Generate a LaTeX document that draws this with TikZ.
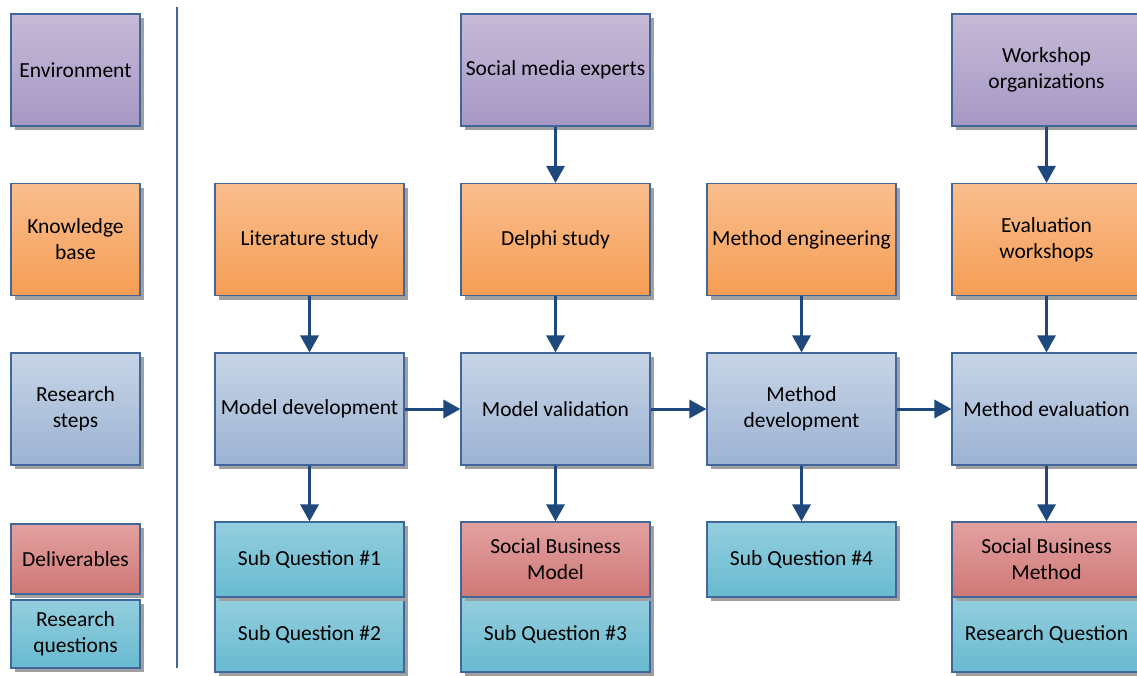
\documentclass[tikz,border=0pt]{standalone}
\usepackage{fontspec}
\setmainfont{Carlito}
\usetikzlibrary{arrows.meta,shadows}
\definecolor{frame}{RGB}{65,103,154}
\definecolor{arrowblue}{RGB}{31,73,125}
\definecolor{envtop}{RGB}{198,186,215}
\definecolor{envbot}{RGB}{166,152,196}
\definecolor{kbtop}{RGB}{250,190,142}
\definecolor{kbbot}{RGB}{245,157,84}
\definecolor{rstop}{RGB}{199,212,230}
\definecolor{rsbot}{RGB}{156,179,211}
\definecolor{dltop}{RGB}{226,161,160}
\definecolor{dlbot}{RGB}{207,120,118}
\definecolor{rqtop}{RGB}{148,206,222}
\definecolor{rqbot}{RGB}{104,186,208}
\definecolor{shade}{RGB}{160,160,160}
\tikzset{
  box/.style={draw=frame, line width=1.1pt, align=center, inner sep=2pt,
    font=\fontsize{21.5}{26}\selectfont,
    drop shadow={shadow xshift=4pt, shadow yshift=-4pt, fill=shade, opacity=1}},
  env/.style={box, top color=envtop, bottom color=envbot},
  kb/.style={box, top color=kbtop, bottom color=kbbot},
  rs/.style={box, top color=rstop, bottom color=rsbot},
  dl/.style={box, top color=dltop, bottom color=dlbot},
  rq/.style={box, top color=rqtop, bottom color=rqbot},
  legend/.style={minimum width=129pt},
  main/.style={minimum width=189pt},
  tall/.style={minimum height=112pt},
  short/.style={minimum height=75pt},
  flow/.style={draw=arrowblue, line width=3pt,
    -{Triangle[length=17pt,width=18pt]}},
}
\begin{document}
\begin{tikzpicture}[x=1pt,y=-1pt]
\useasboundingbox (0,0) rectangle (1137,675);
\clip (0,0) rectangle (1137,675);

% legend column
\node[env, legend, tall] (lenv) at (75.5,70) {Environment};
\node[kb, legend, tall] (lkb) at (75.5,239.5) {Knowledge\\base};
\node[rs, legend, tall] (lrs) at (75.5,409) {Research\\steps};
\node[dl, legend, minimum height=70pt] (ldl) at (75.5,559) {Deliverables};
\node[rq, legend, minimum height=68pt] (lrq) at (75.5,634) {Research\\questions};

% separator
\coordinate (septop) at (177,7);
\coordinate (sepbot) at (177,668);
\draw[frame, line width=1.2pt] (septop) -- (sepbot);

% environment row
\node[env, main, tall] (sme) at (555.5,70) {Social media experts};
\node[env, main, tall] (wso) at (1046.5,70) {Workshop\\organizations};

% knowledge base row
\node[kb, main, tall] (lit) at (309.5,239.5) {Literature study};
\node[kb, main, tall] (del) at (555.5,239.5) {Delphi study};
\node[kb, main, tall] (meng) at (801.5,239.5) {Method engineering};
\node[kb, main, tall] (evw) at (1046.5,239.5) {Evaluation\\workshops};

% research steps row
\node[rs, main, tall] (mdev) at (309.5,409) {Model development};
\node[rs, main, tall] (mval) at (555.5,409) {Model validation};
\node[rs, main, tall] (medev) at (801.5,409) {Method\\development};
\node[rs, main, tall] (meval) at (1046.5,409) {Method evaluation};

% deliverables and questions
\node[rq, main, short] (sq2) at (309.5,634.5) {Sub Question \#2};
\node[rq, main, short] (sq1) at (309.5,559.5) {Sub Question \#1};
\node[rq, main, short] (sq3) at (555.5,634.5) {Sub Question \#3};
\node[dl, main, short] (sbm) at (555.5,559.5) {Social Business\\Model};
\node[rq, main, short] (sq4) at (801.5,559.5) {Sub Question \#4};
\node[rq, main, short] (rqn) at (1046.5,634.5) {Research Question};
\node[dl, main, short] (sbme) at (1046.5,559.5) {Social Business\\Method};

% connectors
\draw[flow] (sme) -- (del);
\draw[flow] (wso) -- (evw);
\draw[flow] (lit) -- (mdev);
\draw[flow] (del) -- (mval);
\draw[flow] (meng) -- (medev);
\draw[flow] (evw) -- (meval);
\draw[flow] (mdev) -- (mval);
\draw[flow] (mval) -- (medev);
\draw[flow] (medev) -- (meval);
\draw[flow] (mdev) -- (sq1);
\draw[flow] (mval) -- (sbm);
\draw[flow] (medev) -- (sq4);
\draw[flow] (meval) -- (sbme);
\end{tikzpicture}
\end{document}
